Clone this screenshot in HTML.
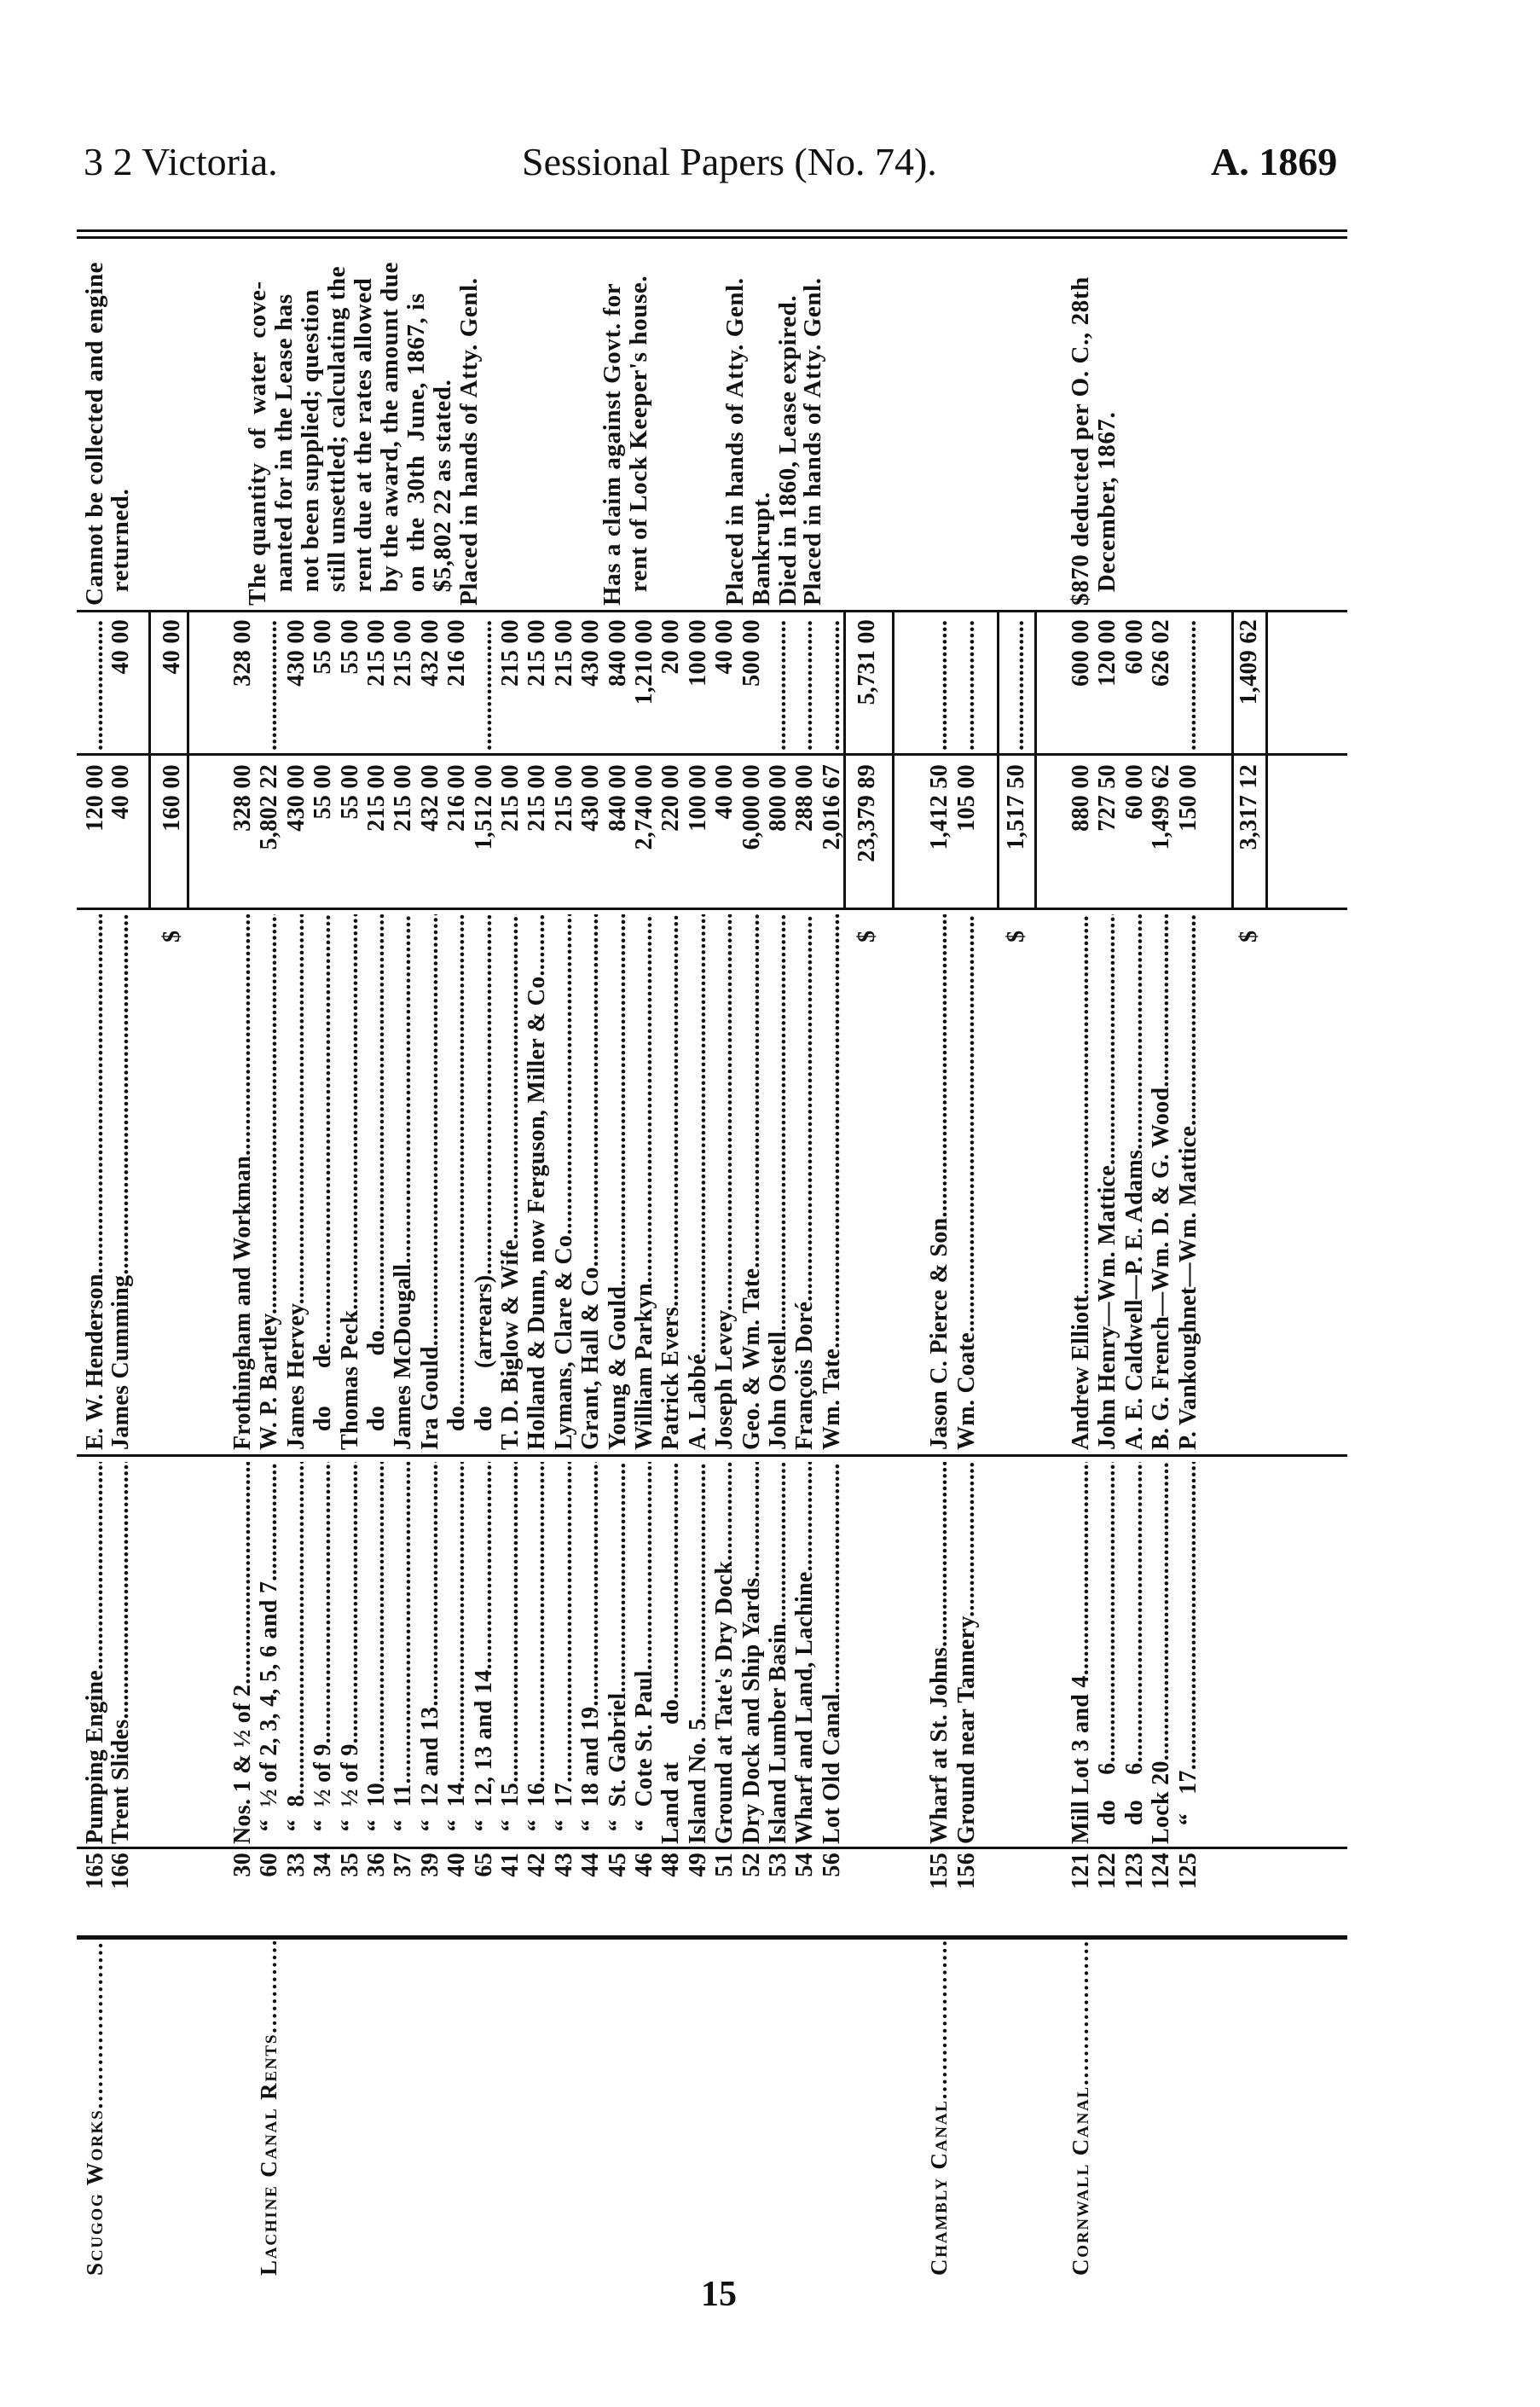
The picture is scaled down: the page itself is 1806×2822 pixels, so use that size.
<!DOCTYPE html>
<html><head><meta charset="utf-8">
<style>
html,body{margin:0;padding:0;background:#fff;}
body{width:1806px;height:2822px;position:relative;overflow:hidden;font-family:"Liberation Serif",serif;color:#111;}
.hd{position:absolute;top:162px;font-size:46px;line-height:56px;white-space:nowrap;}
#fr{position:absolute;left:90px;top:2680px;width:2420px;height:1500px;transform-origin:0 0;transform:rotate(-90deg);}
.row{position:absolute;left:0;width:2420px;height:31px;font-size:28px;line-height:31px;font-weight:bold;letter-spacing:0.3px;}
.row span{position:absolute;top:0;white-space:pre;overflow:hidden;height:31px;}
.n{left:448px;width:60px;text-align:right;}
.p{left:518px;width:448px;}
.l{left:980px;width:628px;}
.dl{left:1575px;width:36px;}
.a3{left:1620px;width:164px;text-align:right;}
.a2{left:1800px;width:154px;text-align:right;}
.rm{left:1970px;width:440px;font-size:29px;letter-spacing:0.6px;}
.s{left:12px;width:392px;font-variant:small-caps;font-size:27px;letter-spacing:1.8px;}
.p::after,.l::after,.s::after{content:"..........................................................................................................................";}
.dd::after{content:"........................................................";}
.dd{text-align:left !important;}
.ln{position:absolute;background:#111;}
</style></head><body>
<div class="hd" style="left:98px;">3 2 Victoria.</div>
<div class="hd" style="left:612px;">Sessional Papers (No. 74).</div>
<div class="hd" style="left:1420px;font-weight:bold;">A. 1869</div>
<div style="position:absolute;left:822px;top:2666px;font-size:42px;font-weight:bold;">15</div>

<div id="fr">
<div class="ln" style="left:406px;top:0;width:5px;height:1490px;"></div>
<div class="ln" style="left:512px;top:0;width:3px;height:1490px;"></div>
<div class="ln" style="left:972px;top:0;width:3px;height:1490px;"></div>
<div class="ln" style="left:1613px;top:0;width:3px;height:1490px;"></div>
<div class="ln" style="left:1794px;top:0;width:3px;height:1490px;"></div>
<div class="ln" style="left:1962px;top:0;width:3px;height:1490px;"></div>
<div class="ln" style="left:2400px;top:0;width:3px;height:1490px;"></div>
<div class="ln" style="left:2408px;top:0;width:3px;height:1490px;"></div>
<div class="ln" style="left:1614px;top:84px;width:350px;height:3px;"></div>
<div class="ln" style="left:1614px;top:129px;width:350px;height:3px;"></div>
<div class="ln" style="left:1614px;top:899px;width:350px;height:3px;"></div>
<div class="ln" style="left:1614px;top:956px;width:350px;height:3px;"></div>
<div class="ln" style="left:1614px;top:1079px;width:350px;height:3px;"></div>
<div class="ln" style="left:1614px;top:1123px;width:350px;height:3px;"></div>
<div class="ln" style="left:1614px;top:1354px;width:350px;height:3px;"></div>
<div class="ln" style="left:1614px;top:1394px;width:350px;height:3px;"></div>

<div class="row" style="top:6px"><span class="s">Scugog Works</span><span class="n">165</span><span class="p">Pumping Engine</span><span class="l">E. W. Henderson</span><span class="a3">120 00</span><span class="a2 dd"></span><span class="rm">Cannot be collected and engine</span></div>
<div class="row" style="top:36px"><span class="n">166</span><span class="p">Trent Slides</span><span class="l">James Cumming</span><span class="a3"> 40 00</span><span class="a2">40 00</span><span class="rm">  returned.</span></div>
<div class="row" style="top:96px"><span class="dl">$</span><span class="a3">160 00</span><span class="a2">40 00</span></div>

<div class="row" style="top:179px"><span class="n">30</span><span class="p">Nos. 1 &amp; ½ of 2</span><span class="l">Frothingham and Workman</span><span class="a3">328 00</span><span class="a2">328 00</span></div>
<div class="row" style="top:210px"><span class="s">Lachine Canal Rents</span><span class="n">60</span><span class="p">  “  ½ of 2, 3, 4, 5, 6 and 7</span><span class="l">W. P. Bartley</span><span class="a3">5,802 22</span><span class="a2 dd"></span></div>
<div class="row" style="top:242px"><span class="n">33</span><span class="p">  “  8</span><span class="l">James Hervey</span><span class="a3">430 00</span><span class="a2">430 00</span></div>
<div class="row" style="top:273px"><span class="n">34</span><span class="p">  “  ½ of 9</span><span class="l">   do      de</span><span class="a3">55 00</span><span class="a2">55 00</span></div>
<div class="row" style="top:305px"><span class="n">35</span><span class="p">  “  ½ of 9</span><span class="l">Thomas Peck</span><span class="a3">55 00</span><span class="a2">55 00</span></div>
<div class="row" style="top:336px"><span class="n">36</span><span class="p">  “  10</span><span class="l">   do        do</span><span class="a3">215 00</span><span class="a2">215 00</span></div>
<div class="row" style="top:367px"><span class="n">37</span><span class="p">  “  11</span><span class="l">James McDougall</span><span class="a3">215 00</span><span class="a2">215 00</span></div>
<div class="row" style="top:399px"><span class="n">39</span><span class="p">  “  12 and 13</span><span class="l">Ira Gould</span><span class="a3">432 00</span><span class="a2">432 00</span></div>
<div class="row" style="top:430px"><span class="n">40</span><span class="p">  “  14</span><span class="l">   do</span><span class="a3">216 00</span><span class="a2">216 00</span></div>
<div class="row" style="top:462px"><span class="n">65</span><span class="p">  “  12, 13 and 14</span><span class="l">   do      (arrears)</span><span class="a3">1,512 00</span><span class="a2 dd"></span></div>
<div class="row" style="top:493px"><span class="n">41</span><span class="p">  “  15</span><span class="l">T. D. Biglow &amp; Wife</span><span class="a3">215 00</span><span class="a2">215 00</span></div>
<div class="row" style="top:524px"><span class="n">42</span><span class="p">  “  16</span><span class="l">Holland &amp; Dunn, now Ferguson, Miller &amp; Co.</span><span class="a3">215 00</span><span class="a2">215 00</span></div>
<div class="row" style="top:556px"><span class="n">43</span><span class="p">  “  17</span><span class="l">Lymans, Clare &amp; Co.</span><span class="a3">215 00</span><span class="a2">215 00</span></div>
<div class="row" style="top:587px"><span class="n">44</span><span class="p">  “  18 and 19</span><span class="l">Grant, Hall &amp; Co.</span><span class="a3">430 00</span><span class="a2">430 00</span></div>
<div class="row" style="top:619px"><span class="n">45</span><span class="p">  “  St. Gabriel</span><span class="l">Young &amp; Gould</span><span class="a3">840 00</span><span class="a2">840 00</span></div>
<div class="row" style="top:650px"><span class="n">46</span><span class="p">  “  Cote St. Paul</span><span class="l">William Parkyn</span><span class="a3">2,740 00</span><span class="a2">1,210 00</span></div>
<div class="row" style="top:681px"><span class="n">48</span><span class="p">Land at      do</span><span class="l">Patrick Evers</span><span class="a3">220 00</span><span class="a2">20 00</span></div>
<div class="row" style="top:713px"><span class="n">49</span><span class="p">Island No. 5</span><span class="l">A. Labbé</span><span class="a3">100 00</span><span class="a2">100 00</span></div>
<div class="row" style="top:744px"><span class="n">51</span><span class="p">Ground at Tate's Dry Dock</span><span class="l">Joseph Levey</span><span class="a3">40 00</span><span class="a2">40 00</span></div>
<div class="row" style="top:776px"><span class="n">52</span><span class="p">Dry Dock and Ship Yards</span><span class="l">Geo. &amp; Wm. Tate</span><span class="a3">6,000 00</span><span class="a2">500 00</span></div>
<div class="row" style="top:807px"><span class="n">53</span><span class="p">Island Lumber Basin</span><span class="l">John Ostell</span><span class="a3">800 00</span><span class="a2 dd"></span></div>
<div class="row" style="top:838px"><span class="n">54</span><span class="p">Wharf and Land, Lachine</span><span class="l">François Doré</span><span class="a3">288 00</span><span class="a2 dd"></span></div>
<div class="row" style="top:870px"><span class="n">56</span><span class="p">Lot Old Canal</span><span class="l">Wm. Tate</span><span class="a3">2,016 67</span><span class="a2 dd"></span></div>
<div class="row" style="top:911px"><span class="dl">$</span><span class="a3">23,379 89</span><span class="a2">5,731 00</span></div>

<div class="row" style="top:197px"><span class="rm">The quantity  of  water  cove-</span></div>
<div class="row" style="top:228px"><span class="rm">  nanted for in the Lease has</span></div>
<div class="row" style="top:259px"><span class="rm">  not been supplied; question</span></div>
<div class="row" style="top:290px"><span class="rm">  still unsettled; calculating the</span></div>
<div class="row" style="top:321px"><span class="rm">  rent due at the rates allowed</span></div>
<div class="row" style="top:352px"><span class="rm">  by the award, the amount due</span></div>
<div class="row" style="top:383px"><span class="rm">  on  the  30th  June, 1867, is</span></div>
<div class="row" style="top:414px"><span class="rm">  $5,802 22 as stated.</span></div>
<div class="row" style="top:445px"><span class="rm">Placed in hands of Atty. Genl.</span></div>
<div class="row" style="top:613px"><span class="rm">Has a claim against Govt. for</span></div>
<div class="row" style="top:644px"><span class="rm">  rent of Lock Keeper's house.</span></div>
<div class="row" style="top:757px"><span class="rm">Placed in hands of Atty. Genl.</span></div>
<div class="row" style="top:788px"><span class="rm">Bankrupt.</span></div>
<div class="row" style="top:819px"><span class="rm">Died in 1860, Lease expired.</span></div>
<div class="row" style="top:848px"><span class="rm">Placed in hands of Atty. Genl.</span></div>

<div class="row" style="top:996px"><span class="s">Chambly Canal</span><span class="n">155</span><span class="p">Wharf at St. Johns</span><span class="l">Jason C. Pierce &amp; Son</span><span class="a3">1,412 50</span><span class="a2 dd"></span></div>
<div class="row" style="top:1028px"><span class="n">156</span><span class="p">Ground near Tannery</span><span class="l">Wm. Coate</span><span class="a3">105 00</span><span class="a2 dd"></span></div>
<div class="row" style="top:1086px"><span class="dl">$</span><span class="a3">1,517 50</span><span class="a2 dd"></span></div>

<div class="row" style="top:1162px"><span class="s">Cornwall Canal</span><span class="n">121</span><span class="p">Mill Lot 3 and 4</span><span class="l">Andrew Elliott</span><span class="a3">880 00</span><span class="a2">600 00</span><span class="rm">$870 deducted per O. C., 28th</span></div>
<div class="row" style="top:1193px"><span class="n">122</span><span class="p">   do    6</span><span class="l">John Henry—Wm. Mattice</span><span class="a3">727 50</span><span class="a2">120 00</span><span class="rm">  December, 1867.</span></div>
<div class="row" style="top:1225px"><span class="n">123</span><span class="p">   do    6</span><span class="l">A. E. Caldwell—P. E. Adams</span><span class="a3">60 00</span><span class="a2">60 00</span></div>
<div class="row" style="top:1256px"><span class="n">124</span><span class="p">Lock 20</span><span class="l">B. G. French—Wm. D. &amp; G. Wood</span><span class="a3">1,499 62</span><span class="a2">626 02</span></div>
<div class="row" style="top:1288px"><span class="n">125</span><span class="p">   “   17</span><span class="l">P. Vankoughnet—Wm. Mattice</span><span class="a3">150 00</span><span class="a2 dd"></span></div>
<div class="row" style="top:1359px"><span class="dl">$</span><span class="a3">3,317 12</span><span class="a2">1,409 62</span></div>
</div>
</body></html>
